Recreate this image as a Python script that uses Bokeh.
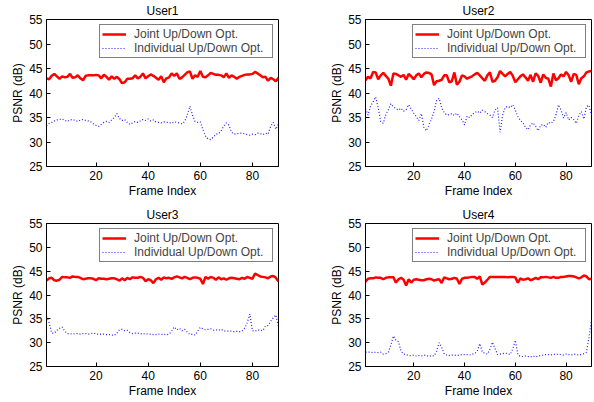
from bokeh.plotting import figure
from bokeh.models import Range1d, FixedTicker
from bokeh.layouts import column, row
from bokeh.embed import file_html
from bokeh.resources import INLINE

frames = list(range(1, 91))
x_ticks = [20, 40, 60, 80]
y_ticks = [25, 30, 35, 40, 45, 50, 55]
titles = ["User1", "User2", "User3", "User4"]
series_names = ["Joint Up/Down Opt.", "Individual Up/Down Opt."]

u1_joint = [
    43.0, 42.8, 43.5, 43.9, 43.4, 42.9, 43.4, 43.2, 43.3, 43.9,
    43.1, 43.2, 43.6, 43.0, 42.6, 43.5, 43.6, 43.6, 43.6, 43.7,
    43.6, 43.0, 43.7, 43.3, 42.7, 43.4, 42.9, 43.3, 42.8, 42.0,
    42.2, 42.9, 42.9, 43.0, 43.6, 43.0, 43.3, 44.0, 43.0, 43.4,
    43.8, 43.5, 43.1, 42.7, 43.4, 42.2, 43.0, 43.2, 44.0, 43.5,
    44.0, 42.9, 43.2, 43.7, 44.2, 44.4, 42.9, 43.6, 43.3, 44.5,
    43.3, 43.2, 43.6, 44.1, 43.9, 43.7, 43.7, 43.6, 43.2, 44.0,
    43.1, 43.6, 43.3, 42.9, 43.3, 43.5, 43.7, 43.8, 43.8, 43.9,
    44.3, 44.0, 43.6, 43.2, 43.3, 42.5, 43.1, 42.8, 42.4, 43.1]
u1_indiv = [
    33.3, 33.8, 34.0, 34.3, 34.5, 34.6, 34.7, 34.4, 34.2, 34.5,
    34.6, 34.4, 34.2, 34.5, 34.6, 34.4, 34.3, 34.1, 33.7, 33.4,
    33.2, 33.6, 34.0, 34.2, 34.0, 34.5, 35.0, 35.8, 34.8, 34.4,
    34.6, 34.0, 33.6, 33.9, 34.2, 34.0, 34.3, 34.6, 34.4, 34.7,
    34.3, 34.5, 34.1, 34.0, 33.9, 34.1, 34.0, 34.0, 33.8, 34.1,
    34.0, 33.9, 33.7, 34.2, 35.5, 37.3, 35.5, 34.2, 34.0, 34.1,
    32.5, 31.2, 30.6, 30.5, 31.0, 31.6, 31.7, 32.3, 33.2, 33.9,
    33.4, 32.0, 31.6, 31.7, 31.8, 31.8, 31.7, 31.5, 31.4, 31.6,
    31.5, 31.8, 31.7, 31.5, 31.8, 31.6, 33.2, 34.0, 32.6, 33.7]
u2_joint = [
    42.6, 43.3, 43.0, 44.3, 44.2, 42.8, 43.6, 44.1, 43.5, 42.9,
    41.5, 44.0, 43.9, 43.6, 43.3, 43.7, 42.7, 43.9, 43.4, 42.8,
    43.6, 44.0, 43.2, 43.9, 44.2, 44.1, 43.8, 41.6, 42.4, 42.5,
    42.7, 43.6, 43.6, 42.2, 42.4, 44.2, 41.7, 42.3, 43.6, 43.4,
    42.9, 43.2, 43.4, 43.8, 44.1, 43.6, 43.0, 42.5, 43.6, 44.2,
    42.3, 42.5, 43.2, 44.5, 43.9, 43.4, 43.9, 44.3, 43.5, 42.2,
    42.8, 43.4, 43.8, 43.2, 42.5, 43.7, 42.3, 44.0, 43.5, 42.1,
    43.8, 43.1, 42.9, 41.3, 44.0, 42.6, 43.0, 43.8, 43.4, 44.3,
    43.6, 42.3, 43.9, 43.7, 41.8, 43.0, 43.4, 44.2, 44.4, 44.5]
u2_indiv = [
    36.8, 35.5, 37.3, 38.2, 39.2, 37.0, 34.2, 33.8, 35.6, 36.6,
    37.8, 37.2, 36.8, 36.5, 36.9, 36.3, 36.6, 37.6, 36.7, 35.9,
    35.2, 34.4, 35.8, 33.0, 32.3, 33.5, 34.7, 36.2, 38.5, 38.9,
    37.0, 36.0, 35.5, 35.6, 35.8, 35.4, 35.9, 35.2, 34.5, 33.5,
    35.3, 35.0, 35.6, 36.0, 36.3, 35.9, 36.5, 36.2, 35.8, 35.5,
    35.0, 36.5, 37.0, 32.0, 35.5, 37.0, 37.3, 37.0, 37.6, 36.5,
    35.2, 34.4, 33.9, 33.0, 32.5, 33.5, 33.9, 33.2, 32.3, 33.4,
    33.6, 33.0, 34.0, 33.8, 34.2, 35.5, 37.6, 36.5, 34.9, 36.0,
    34.5, 35.0, 34.6, 33.8, 35.4, 36.2, 34.7, 37.2, 37.5, 35.5]
u3_joint = [
    43.0, 43.5, 43.6, 43.1, 43.0, 43.2, 43.8, 43.7, 43.7, 43.6,
    43.9, 43.8, 43.8, 43.6, 43.3, 43.4, 43.5, 43.5, 43.4, 43.1,
    43.5, 43.4, 43.4, 43.3, 43.4, 43.5, 43.5, 43.3, 43.0, 43.5,
    43.1, 43.6, 43.3, 43.7, 43.6, 43.6, 43.8, 43.6, 42.9, 43.3,
    43.1, 42.5, 43.3, 43.6, 43.2, 43.7, 43.5, 43.6, 43.4, 43.7,
    43.9, 43.7, 43.5, 43.8, 43.6, 43.3, 43.6, 43.7, 43.6, 43.4,
    42.3, 43.8, 43.4, 43.8, 43.6, 43.2, 43.7, 43.3, 43.5, 43.2,
    43.5, 43.6, 43.5, 43.4, 43.3, 43.6, 43.4, 43.8, 43.6, 43.4,
    44.5, 44.2, 43.9, 43.8, 43.7, 43.5, 43.9, 44.0, 43.6, 42.8]
u3_indiv = [
    35.5, 34.2, 32.0, 32.0, 32.6, 33.0, 33.3, 32.4, 31.9, 31.9,
    31.8, 31.9, 31.9, 31.8, 31.9, 31.9, 31.8, 31.9, 32.0, 31.9,
    31.7, 31.8, 31.8, 31.7, 31.7, 31.6, 31.5, 32.0, 32.7, 32.8,
    32.5, 32.6, 32.1, 31.9, 32.0, 32.0, 31.9, 31.8, 31.9, 31.8,
    31.8, 31.7, 31.7, 31.8, 31.7, 31.8, 31.6, 31.8, 32.4, 33.3,
    32.7, 33.0, 32.5, 32.8, 32.2, 31.7, 31.8, 31.6, 32.4, 33.2,
    32.9, 32.7, 32.8, 32.9, 32.6, 32.7, 32.6, 32.8, 32.5, 32.4,
    32.5, 32.4, 32.3, 32.4, 32.3, 32.4, 33.0, 34.2, 36.0, 32.5,
    32.4, 32.7, 32.6, 32.5, 33.5, 33.6, 34.5, 35.2, 35.8, 33.3]
u4_joint = [
    42.8, 43.4, 43.5, 43.5, 43.7, 43.6, 43.6, 43.3, 43.6, 43.7,
    43.7, 43.7, 42.6, 43.3, 43.6, 43.2, 42.0, 43.3, 42.6, 43.2,
    43.3, 43.2, 43.1, 43.1, 43.3, 43.4, 43.3, 43.0, 43.2, 43.3,
    42.5, 43.7, 43.5, 43.3, 43.4, 43.6, 43.4, 42.3, 43.4, 43.6,
    43.6, 43.7, 43.8, 43.8, 43.4, 43.9, 42.2, 42.6, 43.2, 43.8,
    43.8, 43.8, 43.8, 43.8, 43.8, 43.8, 43.7, 43.8, 43.8, 43.7,
    42.6, 43.5, 43.2, 43.3, 43.5, 43.1, 43.3, 43.6, 43.3, 43.7,
    43.7, 43.8, 43.7, 43.6, 43.8, 43.6, 43.6, 43.8, 43.8, 43.9,
    44.0, 44.0, 43.9, 43.7, 43.5, 43.7, 44.1, 43.9, 43.3, 43.4]
u4_indiv = [
    28.0, 28.0, 28.0, 27.9, 28.0, 27.9, 28.0, 27.6, 27.7, 28.0,
    29.5, 31.4, 30.5, 30.2, 28.2, 27.6, 27.5, 27.3, 27.3, 27.4,
    27.2, 27.3, 27.2, 27.4, 27.3, 27.1, 27.3, 27.2, 28.2, 30.0,
    29.0, 27.6, 27.4, 27.3, 27.4, 27.4, 27.3, 27.4, 27.5, 27.5,
    27.5, 27.4, 27.6, 27.7, 28.2, 29.8, 28.0, 27.8, 27.6, 28.6,
    30.1, 28.8, 27.5, 27.6, 27.7, 27.8, 27.7, 27.5, 28.7, 30.5,
    27.5, 27.1, 27.1, 27.2, 27.1, 27.0, 27.2, 27.0, 27.2, 27.3,
    27.4, 27.5, 27.5, 27.4, 27.6, 27.5, 27.6, 27.5, 27.4, 27.6,
    27.5, 27.4, 27.6, 27.5, 27.4, 27.5, 27.7, 28.0, 31.0, 34.8]

FONT = "Liberation Sans"


def make(title, joint, indiv, width, height, bl, br, bt, bb):
    p = figure(width=width, height=height, output_backend="svg",
               toolbar_location=None, title=title,
               x_range=Range1d(1, 90), y_range=Range1d(25, 55),
               min_border_left=bl, min_border_right=br,
               min_border_top=bt, min_border_bottom=bb)
    p.background_fill_color = "white"
    p.border_fill_color = "white"
    p.outline_line_color = "black"
    p.outline_line_width = 1
    p.outline_line_alpha = 1
    p.grid.visible = False
    p.title.align = "center"
    p.title.text_font = FONT
    p.title.text_font_size = "12px"
    p.title.text_font_style = "normal"
    p.title.text_color = "black"
    p.title.standoff = 3

    p.line(frames, joint, color="#ff0000", line_width=2.5,
           legend_label=series_names[0])
    p.line(frames, indiv, color="#2020ff", line_width=1.2, line_dash="1 2",
           legend_label=series_names[1])

    for ax, ticks, lab in ((p.xaxis[0], x_ticks, "Frame Index"),
                           (p.yaxis[0], y_ticks, "PSNR (dB)")):
        ax.ticker = FixedTicker(ticks=ticks)
        ax.axis_label = lab
        ax.axis_label_text_font = FONT
        ax.axis_label_text_font_size = "12px"
        ax.axis_label_text_font_style = "normal"
        ax.axis_label_text_color = "black"
        ax.axis_label_standoff = 1
        ax.major_label_text_font = FONT
        ax.major_label_text_font_size = "12px"
        ax.major_label_text_color = "black"
        ax.major_label_standoff = 4
        ax.major_tick_in = 4
        ax.major_tick_out = 0
        ax.minor_tick_in = 0
        ax.minor_tick_out = 0
        ax.axis_line_color = "black"
        ax.major_tick_line_color = "black"

    lg = p.legend[0]
    lg.location = "top_right"
    lg.margin = 5
    lg.padding = 2
    lg.spacing = 0
    lg.label_text_font = FONT
    lg.label_text_font_size = "12px"
    lg.label_height = 10
    lg.label_width = 136
    lg.glyph_height = 10
    lg.glyph_width = 24
    lg.label_standoff = 8
    lg.border_line_color = "black"
    lg.border_line_width = 1
    lg.background_fill_color = "white"
    lg.background_fill_alpha = 1
    return p


p1 = make(titles[0], u1_joint, u1_indiv, 297, 200, 46, 19, 19, 32)
p2 = make(titles[1], u2_joint, u2_indiv, 295, 200, 68, 1, 19, 32)
p3 = make(titles[2], u3_joint, u3_indiv, 297, 200, 46, 19, 23, 28)
p4 = make(titles[3], u4_joint, u4_indiv, 295, 200, 68, 1, 23, 28)

layout = column(row(p1, p2), row(p3, p4))

with open("out.html", "w") as f:
    f.write(file_html(layout, INLINE))
